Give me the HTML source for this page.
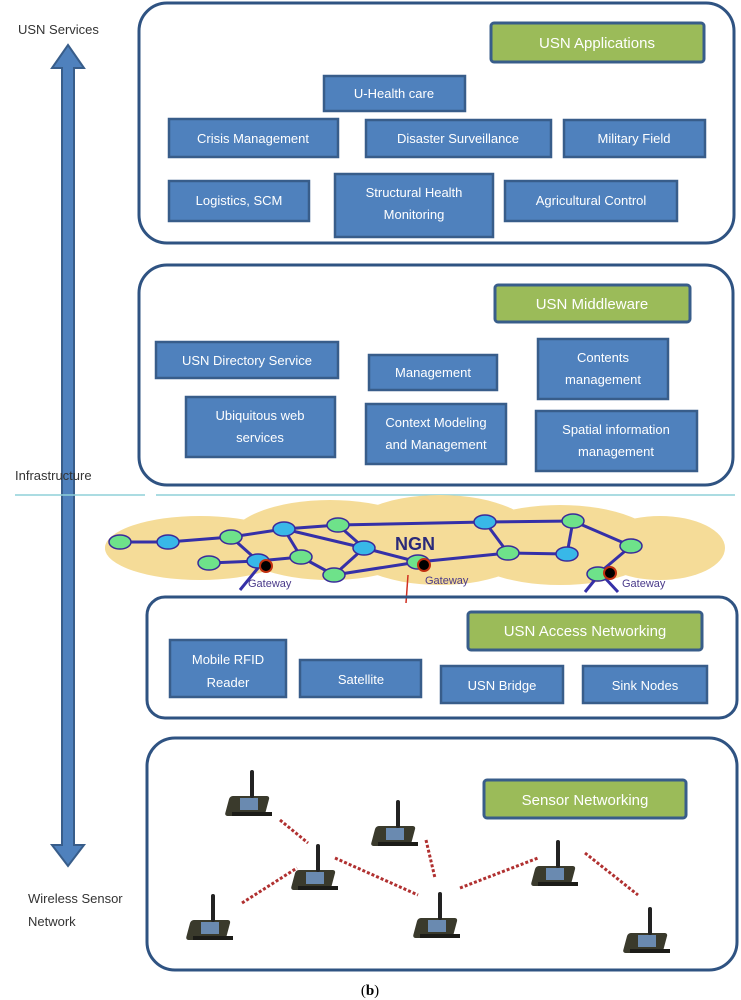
<!DOCTYPE html>
<html><head><meta charset="utf-8"><style>
body{margin:0;background:#fff;}
svg{display:block}
text{font-family:"Liberation Sans",sans-serif}
.b{fill:#4f81bd;stroke:#385d8a;stroke-width:2.5}
.g{fill:#9bbb59;stroke:#385d8a;stroke-width:3}
.t{fill:#fff;font-size:13px;text-anchor:middle}
.gt{fill:#fff;font-size:15px;text-anchor:middle}
.c{fill:none;stroke:#2f5382;stroke-width:3}
.l{fill:#333;font-size:13px}
.nd{stroke:#3a2a9a;stroke-width:1.5}
.e{stroke:#3530a8;stroke-width:3;fill:none}
.dl{stroke:#b03030;stroke-width:3;stroke-dasharray:3 2}
.serif{font-family:"Liberation Serif",serif}
</style></head><body>
<svg width="741" height="1000" viewBox="0 0 741 1000">
<defs>
<g id="sn">
<rect x="-20" y="8" width="40" height="20" rx="3" fill="#3a3a2c" transform="skewX(-15)"/>
<rect x="-12" y="10" width="18" height="12" fill="#6a8ab0"/>
<rect x="-2" y="-18" width="4" height="28" rx="2" fill="#222"/>
<rect x="-20" y="24" width="40" height="4" fill="#1c1c18"/>
</g>
</defs>
<polygon points="68,45 84,68 74,68 74,845 84,845 68,866 52,845 62,845 62,68 52,68" fill="#4f81bd" stroke="#385d8a" stroke-width="2"/>
<text class="l" x="18" y="34">USN Services</text>
<text class="l" x="15" y="480">Infrastructure</text>
<text class="l" x="28" y="903">Wireless Sensor</text>
<text class="l" x="28" y="926">Network</text>
<text class="serif" x="370" y="995" font-size="15" text-anchor="middle">(<tspan font-weight="bold">b</tspan>)</text>
<rect class="c" x="139" y="3" width="595" height="240" rx="28"/>
<rect class="g" x="491" y="23" width="213" height="39" rx="3"/><text class="gt" x="597" y="48">USN Applications</text>
<rect class="b" x="324" y="76" width="141" height="35"/><text class="t" x="394" y="98">U-Health care</text>
<rect class="b" x="169" y="119" width="169" height="38"/><text class="t" x="253" y="143">Crisis Management</text>
<rect class="b" x="366" y="120" width="185" height="37"/><text class="t" x="458" y="143">Disaster Surveillance</text>
<rect class="b" x="564" y="120" width="141" height="37"/><text class="t" x="634" y="143">Military Field</text>
<rect class="b" x="169" y="181" width="140" height="40"/><text class="t" x="239" y="205">Logistics, SCM</text>
<rect class="b" x="335" y="174" width="158" height="63"/><text class="t" x="414" y="197">Structural Health</text><text class="t" x="414" y="219">Monitoring</text>
<rect class="b" x="505" y="181" width="172" height="40"/><text class="t" x="591" y="205">Agricultural Control</text>
<rect class="c" x="139" y="265" width="594" height="220" rx="28"/>
<rect class="g" x="495" y="285" width="195" height="37" rx="3"/><text class="gt" x="592" y="309">USN Middleware</text>
<rect class="b" x="156" y="342" width="182" height="36"/><text class="t" x="247" y="365">USN Directory Service</text>
<rect class="b" x="369" y="355" width="128" height="35"/><text class="t" x="433" y="377">Management</text>
<rect class="b" x="538" y="339" width="130" height="60"/><text class="t" x="603" y="362">Contents</text><text class="t" x="603" y="384">management</text>
<rect class="b" x="186" y="397" width="149" height="60"/><text class="t" x="260" y="420">Ubiquitous web</text><text class="t" x="260" y="442">services</text>
<rect class="b" x="366" y="404" width="140" height="60"/><text class="t" x="436" y="427">Context Modeling</text><text class="t" x="436" y="449">and Management</text>
<rect class="b" x="536" y="411" width="161" height="60"/><text class="t" x="616" y="434">Spatial information</text><text class="t" x="616" y="456">management</text>
<line x1="15" y1="495" x2="145" y2="495" stroke="#8fd0d8" stroke-width="1.5"/>
<line x1="156" y1="495" x2="735" y2="495" stroke="#8fd0d8" stroke-width="1.5"/>
<g fill="#f5dc98">
<ellipse cx="200" cy="548" rx="95" ry="32"/>
<ellipse cx="330" cy="540" rx="100" ry="40"/>
<ellipse cx="440" cy="540" rx="100" ry="45"/>
<ellipse cx="560" cy="545" rx="100" ry="40"/>
<ellipse cx="660" cy="548" rx="65" ry="32"/>
<ellipse cx="150" cy="548" rx="45" ry="22"/>
</g>
<text x="395" y="550" font-size="18" font-weight="bold" fill="#2a2a7a">NGN</text>
<g class="e">
<polyline points="120,542 168,542 231,537 284,529 338,525 485,522 573,521"/>
<line x1="231" y1="537" x2="258" y2="561"/>
<line x1="209" y1="563" x2="258" y2="561"/>
<line x1="258" y1="561" x2="301" y2="557"/>
<line x1="284" y1="529" x2="301" y2="557"/>
<line x1="284" y1="529" x2="364" y2="548"/>
<line x1="338" y1="525" x2="364" y2="548"/>
<line x1="301" y1="557" x2="334" y2="575"/>
<line x1="334" y1="575" x2="418" y2="562"/>
<line x1="364" y1="548" x2="334" y2="575"/>
<line x1="364" y1="548" x2="418" y2="562"/>
<line x1="418" y1="562" x2="508" y2="553"/>
<line x1="508" y1="553" x2="485" y2="522"/>
<line x1="508" y1="553" x2="567" y2="554"/>
<line x1="567" y1="554" x2="573" y2="521"/>
<line x1="573" y1="521" x2="631" y2="546"/>
<line x1="631" y1="546" x2="598" y2="574"/>
<line x1="258" y1="568" x2="240" y2="590"/>
<line x1="598" y1="576" x2="585" y2="592"/>
<line x1="605" y1="578" x2="618" y2="592"/>
</g>
<g class="nd">
<ellipse cx="120" cy="542" rx="11" ry="7" fill="#6ee28a"/>
<ellipse cx="168" cy="542" rx="11" ry="7" fill="#38b8e8"/>
<ellipse cx="231" cy="537" rx="11" ry="7" fill="#6ee28a"/>
<ellipse cx="284" cy="529" rx="11" ry="7" fill="#38b8e8"/>
<ellipse cx="338" cy="525" rx="11" ry="7" fill="#6ee28a"/>
<ellipse cx="485" cy="522" rx="11" ry="7" fill="#38b8e8"/>
<ellipse cx="573" cy="521" rx="11" ry="7" fill="#6ee28a"/>
<ellipse cx="209" cy="563" rx="11" ry="7" fill="#6ee28a"/>
<ellipse cx="258" cy="561" rx="11" ry="7" fill="#38b8e8"/>
<ellipse cx="301" cy="557" rx="11" ry="7" fill="#6ee28a"/>
<ellipse cx="334" cy="575" rx="11" ry="7" fill="#6ee28a"/>
<ellipse cx="364" cy="548" rx="11" ry="7" fill="#38b8e8"/>
<ellipse cx="418" cy="562" rx="11" ry="7" fill="#6ee28a"/>
<ellipse cx="508" cy="553" rx="11" ry="7" fill="#6ee28a"/>
<ellipse cx="567" cy="554" rx="11" ry="7" fill="#38b8e8"/>
<ellipse cx="631" cy="546" rx="11" ry="7" fill="#6ee28a"/>
<ellipse cx="598" cy="574" rx="11" ry="7" fill="#6ee28a"/>
</g>
<circle cx="266" cy="566" r="6" fill="#000" stroke="#c03010" stroke-width="2"/>
<circle cx="424" cy="565" r="6" fill="#000" stroke="#c03010" stroke-width="2"/>
<circle cx="610" cy="573" r="6" fill="#000" stroke="#c03010" stroke-width="2"/>
<g font-size="11" fill="#4a3a8a"><text x="248" y="587">Gateway</text><text x="425" y="584">Gateway</text><text x="622" y="587">Gateway</text></g>
<line x1="408" y1="575" x2="406" y2="603" stroke="#d03020" stroke-width="1.5"/>
<rect class="c" x="147" y="597" width="590" height="121" rx="18"/>
<rect class="g" x="468" y="612" width="234" height="38" rx="3"/><text class="gt" x="585" y="636">USN Access Networking</text>
<rect class="b" x="170" y="640" width="116" height="57"/><text class="t" x="228" y="664" font-size="14">Mobile RFID</text><text class="t" x="228" y="687" font-size="14">Reader</text>
<rect class="b" x="300" y="660" width="121" height="37"/><text class="t" x="361" y="684" font-size="14">Satellite</text>
<rect class="b" x="441" y="666" width="122" height="37"/><text class="t" x="502" y="690" font-size="14">USN Bridge</text>
<rect class="b" x="583" y="666" width="124" height="37"/><text class="t" x="645" y="690" font-size="14">Sink Nodes</text>
<rect class="c" x="147" y="738" width="590" height="232" rx="28"/>
<rect class="g" x="484" y="780" width="202" height="38" rx="3"/><text class="gt" x="585" y="805">Sensor Networking</text>
<g class="dl">
<line x1="280" y1="820" x2="308" y2="843"/>
<line x1="242" y1="903" x2="297" y2="868"/>
<line x1="335" y1="858" x2="418" y2="895"/>
<line x1="426" y1="840" x2="435" y2="878"/>
<line x1="460" y1="888" x2="538" y2="858"/>
<line x1="585" y1="853" x2="638" y2="895"/>
</g>
<use href="#sn" x="252" y="788"/>
<use href="#sn" x="398" y="818"/>
<use href="#sn" x="318" y="862"/>
<use href="#sn" x="213" y="912"/>
<use href="#sn" x="440" y="910"/>
<use href="#sn" x="558" y="858"/>
<use href="#sn" x="650" y="925"/>
</svg>
</body></html>
